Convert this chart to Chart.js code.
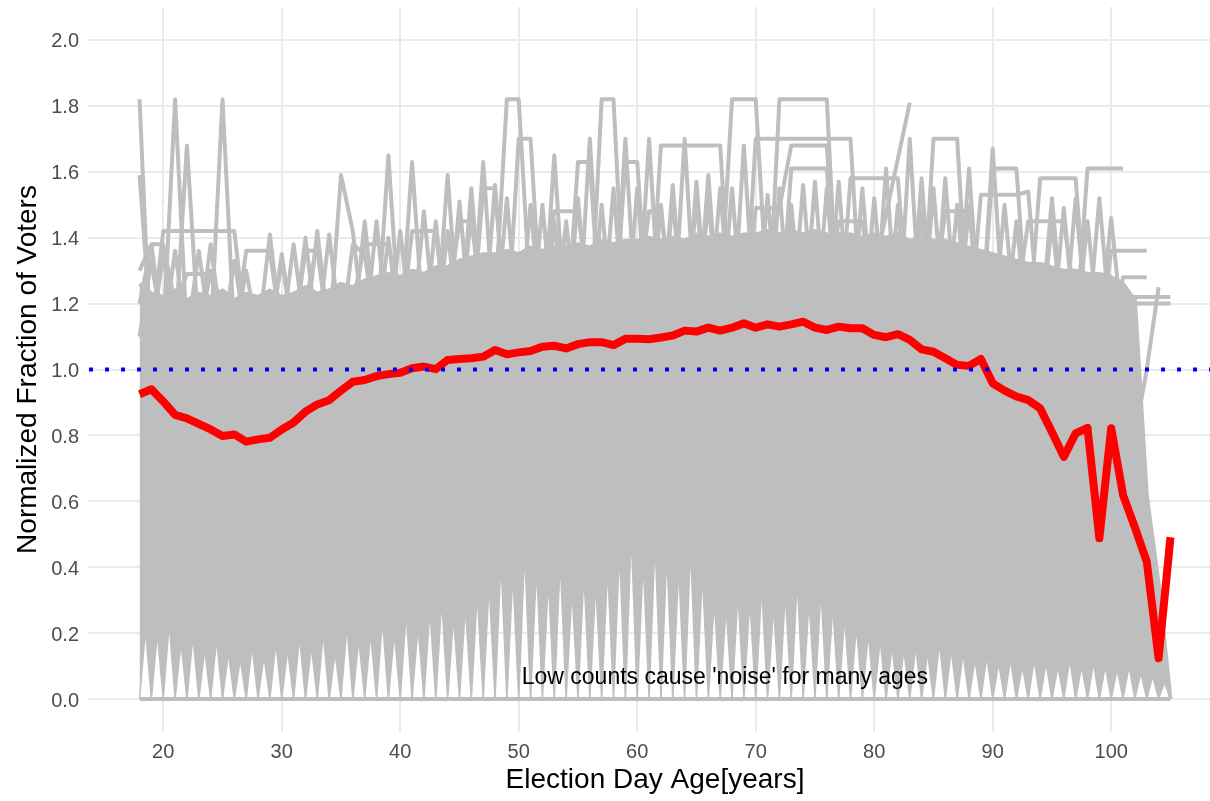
<!DOCTYPE html>
<html>
<head>
<meta charset="utf-8">
<script src="https://cdn.jsdelivr.net/npm/chart.js@4.4.1/dist/chart.umd.min.js"></script>
<style>
  html, body { margin: 0; padding: 0; background: #fff; overflow: hidden; }
  #wrap { width: 1222px; height: 801px; }
</style>
</head>
<body>
<div id="wrap"><canvas id="ageChart" width="1222" height="801"></canvas></div>
<script>
// Ages on the x axis
const ages = [18, 19, 20, 21, 22, 23, 24, 25, 26, 27, 28, 29, 30, 31, 32, 33, 34, 35, 36, 37,
  38, 39, 40, 41, 42, 43, 44, 45, 46, 47, 48, 49, 50, 51, 52, 53, 54, 55, 56, 57,
  58, 59, 60, 61, 62, 63, 64, 65, 66, 67, 68, 69, 70, 71, 72, 73, 74, 75, 76, 77,
  78, 79, 80, 81, 82, 83, 84, 85, 86, 87, 88, 89, 90, 91, 92, 93, 94, 95, 96, 97,
  98, 99, 100, 101, 102, 103, 104, 105];

// Mean normalized fraction (red line), one value per age
const meanFraction = [0.925, 0.940, 0.903, 0.862, 0.852, 0.835, 0.818, 0.798, 0.803, 0.781,
  0.788, 0.793, 0.818, 0.839, 0.872, 0.894, 0.907, 0.936, 0.963, 0.968,
  0.980, 0.986, 0.990, 1.004, 1.009, 1.001, 1.029, 1.032, 1.034, 1.039,
  1.059, 1.046, 1.052, 1.056, 1.069, 1.072, 1.064, 1.077, 1.083, 1.083,
  1.074, 1.093, 1.093, 1.092, 1.097, 1.103, 1.118, 1.115, 1.127, 1.118,
  1.127, 1.140, 1.127, 1.137, 1.130, 1.137, 1.145, 1.127, 1.120, 1.130,
  1.125, 1.125, 1.105, 1.098, 1.107, 1.090, 1.061, 1.054, 1.034, 1.014,
  1.011, 1.032, 0.958, 0.936, 0.918, 0.907, 0.882, 0.810, 0.735, 0.806,
  0.823, 0.488, 0.822, 0.619, 0.521, 0.417, 0.124, 0.491];

// Top of the dense band of county lines, one value per age
const bandTop = [1.26, 1.23, 1.22, 1.24, 1.21, 1.23, 1.22, 1.24, 1.21, 1.23,
  1.22, 1.24, 1.22, 1.23, 1.25, 1.23, 1.24, 1.26, 1.25, 1.27,
  1.28, 1.29, 1.28, 1.30, 1.29, 1.31, 1.31, 1.33, 1.34, 1.35,
  1.35, 1.36, 1.35, 1.37, 1.36, 1.37, 1.37, 1.38, 1.37, 1.39,
  1.38, 1.39, 1.39, 1.40, 1.39, 1.40, 1.39, 1.41, 1.40, 1.41,
  1.40, 1.41, 1.41, 1.42, 1.41, 1.42, 1.41, 1.42, 1.41, 1.41,
  1.41, 1.40, 1.41, 1.40, 1.41, 1.39, 1.40, 1.39, 1.39, 1.38,
  1.37, 1.36, 1.35, 1.34, 1.33, 1.32, 1.32, 1.31, 1.30, 1.30,
  1.29, 1.29, 1.28, 1.26, 1.21, 0.62, 0.35, 0.00];

// Height where lines dropping to zero cross, between age a and a+1 (ages 18..104)
const gapCross = [0.21, 0.20, 0.23, 0.17, 0.19, 0.15, 0.18, 0.14, 0.12, 0.16,
  0.13, 0.17, 0.15, 0.19, 0.16, 0.20, 0.14, 0.22, 0.18, 0.20,
  0.24, 0.20, 0.26, 0.22, 0.27, 0.30, 0.25, 0.28, 0.32, 0.35,
  0.42, 0.38, 0.45, 0.40, 0.36, 0.42, 0.33, 0.38, 0.35, 0.40,
  0.45, 0.50, 0.42, 0.48, 0.44, 0.40, 0.46, 0.38, 0.30, 0.28,
  0.32, 0.30, 0.34, 0.28, 0.32, 0.36, 0.30, 0.33, 0.28, 0.25,
  0.22, 0.20, 0.18, 0.16, 0.15, 0.16, 0.14, 0.17, 0.15, 0.14,
  0.12, 0.13, 0.11, 0.12, 0.10, 0.12, 0.11, 0.10, 0.12, 0.10,
  0.11, 0.10, 0.09, 0.10, 0.08, 0.07, 0.05];

// Individual noisy county lines that stick out above the band: [age, value]
const countyA = [[18,1.82],[19,1.0],[20,1.1],[21,1.82],[22,1.1],[23,1.1],[24,1.1],[25,1.82],[26,1.1],[27,1.1],
  [28,1.1],[29,1.41],[30,1.1],[31,1.38],[32,1.1],[33,1.1],[34,1.41],[35,1.1],[36,1.1],[37,1.1],
  [38,1.45],[39,1.1],[40,1.1],[41,1.63],[42,1.1],[43,1.1],[44,1.59],[45,1.1],[46,1.48],[47,1.1],
  [48,1.2],[49,1.82],[50,1.82],[51,1.2],[52,1.1],[53,1.65],[54,1.1],[55,1.1],[56,1.70],[57,1.1],
  [58,1.1],[59,1.70],[60,1.1],[61,1.70],[62,1.1],[63,1.56],[64,1.1],[65,1.57],[66,1.1],[67,1.2],
  [68,1.82],[69,1.82],[70,1.82],[71,1.2],[72,1.1],[73,1.1],[74,1.56],[75,1.1],[76,1.1],[77,1.1],
  [78,1.1],[79,1.1],[80,1.30],[81,1.47],[82,1.64],[83,1.81]];
const countyB = [[18,1.59],[19,1.1],[20,1.42],[21,1.42],[22,1.42],[23,1.42],[24,1.42],[25,1.42],[26,1.42],[27,1.1],
  [28,1.1],[29,1.1],[30,1.33],[31,1.1],[32,1.1],[33,1.1],[34,1.1],[35,1.59],[36,1.42],[37,1.1],
  [38,1.1],[39,1.65],[40,1.1],[41,1.42],[42,1.42],[43,1.42],[44,1.1],[45,1.51],[46,1.1],[47,1.63],
  [48,1.1],[49,1.1],[50,1.70],[51,1.70],[52,1.1],[53,1.1],[54,1.45],[55,1.1],[56,1.1],[57,1.82],
  [58,1.82],[59,1.1],[60,1.1],[61,1.1],[62,1.68],[63,1.68],[64,1.68],[65,1.68],[66,1.68],[67,1.68],
  [68,1.1],[69,1.68],[70,1.1],[71,1.1],[72,1.82],[73,1.82],[74,1.82],[75,1.82],[76,1.82],[77,1.1],
  [78,1.1],[79,1.1],[80,1.1],[81,1.1],[82,1.1],[83,1.70],[84,1.1],[85,1.70],[86,1.70],[87,1.70],
  [88,1.1],[89,1.1],[90,1.67],[91,1.1],[92,1.1],[93,1.1],[94,1.1],[95,1.52],[96,1.1],[97,1.52],
  [98,1.1],[99,1.52],[100,1.1],[101,1.1]];
const countyC = [[18,1.30],[19,1.38],[20,1.1],[21,1.1],[22,1.68],[23,1.1],[24,1.30],[25,1.1],[26,1.1],[27,1.36],
  [28,1.36],[29,1.36],[30,1.1],[31,1.1],[32,1.36],[33,1.36],[34,1.1],[35,1.1],[36,1.1],[37,1.1],
  [38,1.1],[39,1.1],[40,1.1],[41,1.1],[42,1.48],[43,1.1],[44,1.1],[45,1.1],[46,1.1],[47,1.55],
  [48,1.55],[49,1.1],[50,1.1],[51,1.1],[52,1.50],[53,1.1],[54,1.1],[55,1.63],[56,1.63],[57,1.1],
  [58,1.1],[59,1.63],[60,1.63],[61,1.1],[62,1.1],[63,1.1],[64,1.70],[65,1.1],[66,1.59],[67,1.1],
  [68,1.1],[69,1.1],[70,1.70],[71,1.70],[72,1.70],[73,1.70],[74,1.70],[75,1.70],[76,1.70],[77,1.70],
  [78,1.70],[79,1.1],[80,1.1],[81,1.61],[82,1.1],[83,1.1],[84,1.58],[85,1.1],[86,1.58],[87,1.1],
  [88,1.61],[89,1.1],[90,1.61],[91,1.61],[92,1.61],[93,1.1],[94,1.58],[95,1.58],[96,1.58],[97,1.58],
  [98,1.1],[99,1.1],[100,1.46],[101,1.1]];
const countyD = [[66,1.1],[67,1.1],[68,1.1],[69,1.1],[70,1.49],[71,1.49],[72,1.49],[73,1.68],[74,1.68],[75,1.68],
  [76,1.68],[77,1.1],[78,1.58],[79,1.58],[80,1.58],[81,1.58],[82,1.58],[83,1.1],[84,1.1],[85,1.1],
  [86,1.1],[87,1.1],[88,1.1],[89,1.53],[90,1.53],[91,1.53],[92,1.53],[93,1.54],[94,1.1],[95,1.1],
  [96,1.49],[97,1.1],[98,1.61],[99,1.61],[100,1.61],[101,1.61]];
const countyE = [[70,1.1],[71,1.53],[72,1.1],[73,1.61],[74,1.61],[75,1.61],[76,1.61],[77,1.1],[78,1.1],[79,1.1],
  [80,1.1],[98,1.1],[99,1.1],[100,1.36],[101,1.36],[102,1.36],[103,1.36]];
const countyF = [[18,1.1],[19,1.1],[20,1.35],[21,1.1],[22,1.1],[23,1.36],[24,1.1],[25,1.1],[26,1.33],[27,1.1],
  [28,1.1],[29,1.1],[30,1.1],[31,1.1],[32,1.40],[33,1.1],[34,1.1],[35,1.1],[36,1.38],[37,1.35],
  [38,1.1],[39,1.1],[40,1.42],[41,1.1],[42,1.1],[43,1.45],[44,1.1],[45,1.1],[46,1.1],[47,1.1],
  [48,1.56],[49,1.1],[50,1.1],[51,1.50],[52,1.1],[53,1.45],[54,1.1],[55,1.1],[56,1.1],[57,1.50],
  [58,1.1],[59,1.1],[60,1.55],[61,1.1],[62,1.50],[63,1.1],[64,1.1],[65,1.52],[66,1.1],[67,1.55],
  [68,1.1],[69,1.1],[70,1.1],[71,1.1],[72,1.55],[73,1.1],[74,1.1],[75,1.57],[76,1.1],[77,1.57],
  [78,1.1],[79,1.55],[80,1.1],[81,1.1],[82,1.50],[83,1.1],[84,1.1],[85,1.55],[86,1.1],[87,1.50],
  [88,1.1],[89,1.1],[90,1.1],[91,1.50],[92,1.1],[93,1.1],[94,1.1],[95,1.1],[96,1.1],[97,1.1],
  [98,1.1],[99,1.1]];
const countyG = [[100,1.1],[101,1.28],[102,1.28],[103,1.28]];
const countyH = [[100,1.1],[101,1.22],[102,1.22],[103,1.22],[104,1.22],[105,1.22]];
const countyI = [[100,1.1],[101,1.20],[102,1.20],[103,1.20],[104,1.20],[105,1.20]];
const countyJ = [[102,0.80],[103,1.00],[104,1.25]];
const countyK = [[18,1.1],[19,1.33],[20,1.1],[21,1.36],[22,1.1],[23,1.1],[24,1.38],[25,1.1],[26,1.1],[27,1.30],
  [28,1.1],[29,1.1],[30,1.35],[31,1.1],[32,1.1],[33,1.42],[34,1.1],[35,1.1],[36,1.1],[37,1.45],
  [38,1.1],[39,1.40],[40,1.1],[41,1.1],[42,1.1],[43,1.1],[44,1.42],[45,1.1],[46,1.55],[47,1.1],
  [48,1.1],[49,1.52],[50,1.1],[51,1.1],[52,1.1],[53,1.1],[54,1.1],[55,1.52],[56,1.1],[57,1.1],
  [58,1.55],[59,1.1],[60,1.1],[61,1.1],[62,1.1],[63,1.52],[64,1.1],[65,1.1],[66,1.52],[67,1.1],
  [68,1.55],[69,1.1],[70,1.1],[71,1.1],[72,1.1],[73,1.50],[74,1.1],[75,1.1],[76,1.55],[77,1.1],
  [78,1.1],[79,1.1],[80,1.52],[81,1.1],[82,1.1],[83,1.1],[84,1.48],[85,1.1],[86,1.1],[87,1.1],
  [88,1.50],[89,1.1],[90,1.1],[91,1.1],[92,1.45],[93,1.1],[94,1.1],[95,1.45],[96,1.1],[97,1.1],
  [98,1.45],[99,1.1]];
const countyL = [[18,1.2],[19,1.38],[20,1.38],[21,1.2],[22,1.29],[23,1.29],[24,1.29],[25,1.2],[26,1.2],[27,1.2],
  [28,1.2],[29,1.2],[30,1.2],[31,1.2],[32,1.2],[33,1.38],[34,1.1],[35,1.2],[36,1.2],[37,1.38],
  [38,1.38],[39,1.38],[40,1.2],[41,1.2],[42,1.2],[43,1.2],[44,1.2],[45,1.45],[46,1.45],[47,1.2],
  [48,1.2],[49,1.2],[50,1.2],[51,1.2],[52,1.2],[53,1.48],[54,1.48],[55,1.48],[56,1.2],[57,1.2],
  [58,1.2],[59,1.2],[60,1.2],[61,1.48],[62,1.48],[63,1.2],[64,1.2],[65,1.2],[66,1.2],[67,1.2],
  [68,1.2],[69,1.2],[70,1.2],[71,1.2],[72,1.2],[73,1.2],[74,1.2],[75,1.2],[76,1.2],[77,1.45],
  [78,1.45],[79,1.45],[80,1.2],[81,1.2],[82,1.2],[83,1.2],[84,1.2],[85,1.2],[86,1.48],[87,1.48],
  [88,1.48],[89,1.2],[90,1.2],[91,1.2],[92,1.2],[93,1.45],[94,1.45],[95,1.45],[96,1.45],[97,1.2]];

const referenceLevel = 1.0;
const noteText = "Low counts cause 'noise' for many ages";
const noteAt = [67.4, 0.065];

const xTicks = [20, 30, 40, 50, 60, 70, 80, 90, 100];
const yTicks = [0, 0.2, 0.4, 0.6, 0.8, 1.0, 1.2, 1.4, 1.6, 1.8, 2.0];

const gray = '#BEBEBE';
const fontFamily = "'Liberation Sans', Arial, sans-serif";

// Build point lists
const meanPoints = ages.map((a, i) => ({ x: a, y: meanFraction[i] }));
const bandPoints = ages.map((a, i) => ({ x: a, y: bandTop[i] }));
const zeroPoints = ages.map(a => ({ x: a, y: 0 }));
const gapPoints = [];
gapCross.forEach((h, i) => {
  gapPoints.push({ x: ages[i], y: 0 });
  gapPoints.push({ x: ages[i] + 0.5, y: h });
});
gapPoints.push({ x: ages[ages.length - 1], y: 0 });

function toPoints(pairs) {
  return pairs.map(p => ({ x: p[0], y: p[1] }));
}

function grayLine(data, order, width) {
  return {
    data: data,
    borderColor: gray,
    borderWidth: width || 4,
    borderJoinStyle: 'round',
    pointRadius: 0,
    tension: 0,
    fill: false,
    order: order
  };
}

const bandSet = grayLine(bandPoints, 60);
bandSet.fill = { target: 1 };
bandSet.backgroundColor = gray;

const countyLines = [countyA, countyB, countyC, countyD, countyE, countyF, countyG,
  countyH, countyI, countyJ, countyK, countyL];

const datasets = [
  bandSet,
  grayLine(gapPoints, 59, 1.5),
  grayLine(zeroPoints, 58)
];
countyLines.forEach((c, i) => datasets.push(grayLine(toPoints(c), 40 - i)));
datasets.push({
  data: meanPoints,
  borderColor: '#FF0000',
  borderWidth: 8,
  borderJoinStyle: 'round',
  pointRadius: 0,
  tension: 0,
  fill: false,
  order: 1
});

// Dotted reference line and the text note
const overlayPlugin = {
  id: 'overlay',
  afterDatasetsDraw(chart) {
    const { ctx, chartArea, scales } = chart;
    const y = scales.y.getPixelForValue(referenceLevel);
    ctx.save();
    ctx.strokeStyle = '#0000FF';
    ctx.lineWidth = 4;
    ctx.setLineDash([4, 12]);
    ctx.lineDashOffset = -1;
    ctx.beginPath();
    ctx.moveTo(chartArea.left, y);
    ctx.lineTo(chartArea.right, y);
    ctx.stroke();
    ctx.setLineDash([]);
    ctx.fillStyle = '#000000';
    ctx.font = '23px ' + fontFamily;
    ctx.textAlign = 'center';
    ctx.textBaseline = 'middle';
    ctx.fillText(noteText, scales.x.getPixelForValue(noteAt[0]), scales.y.getPixelForValue(noteAt[1]));
    ctx.restore();
  }
};

const ctx = document.getElementById('ageChart').getContext('2d');
const ageChart = new Chart(ctx, {
  type: 'line',
  data: { datasets: datasets },
  options: {
    responsive: false,
    animation: false,
    devicePixelRatio: 1,
    events: [],
    parsing: false,
    layout: { padding: { top: 7, right: 0, bottom: 0, left: 0 } },
    plugins: {
      legend: { display: false },
      tooltip: { enabled: false }
    },
    scales: {
      x: {
        type: 'linear',
        min: 13.65,
        max: 109.35,
        afterBuildTicks: scale => { scale.ticks = xTicks.map(v => ({ value: v })); },
        afterFit: scale => { scale.height = 69; scale.paddingLeft = 0; scale.paddingRight = 0; },
        grid: { color: '#EBEBEB', lineWidth: 2, drawTicks: false },
        border: { display: false },
        ticks: {
          color: '#4D4D4D',
          font: { family: fontFamily, size: 20 },
          padding: 8,
          maxRotation: 0,
          callback: v => String(v)
        },
        title: {
          display: true,
          text: 'Election Day Age[years]',
          color: '#000000',
          font: { family: fontFamily, size: 28 },
          padding: { top: 0, bottom: 4 }
        }
      },
      y: {
        type: 'linear',
        min: -0.1,
        max: 2.1,
        afterBuildTicks: scale => { scale.ticks = yTicks.map(v => ({ value: v })); },
        afterFit: scale => { scale.width = 88; scale.paddingTop = 0; scale.paddingBottom = 0; },
        grid: { color: '#EBEBEB', lineWidth: 2, drawTicks: false },
        border: { display: false },
        ticks: {
          color: '#4D4D4D',
          font: { family: fontFamily, size: 20 },
          padding: 9,
          labelOffset: 2,
          callback: v => v.toFixed(1)
        },
        title: {
          display: true,
          text: 'Normalized Fraction of Voters',
          color: '#000000',
          font: { family: fontFamily, size: 28 },
          padding: { top: 11, bottom: 0 }
        }
      }
    }
  },
  plugins: [overlayPlugin]
});
</script>
</body>
</html>
